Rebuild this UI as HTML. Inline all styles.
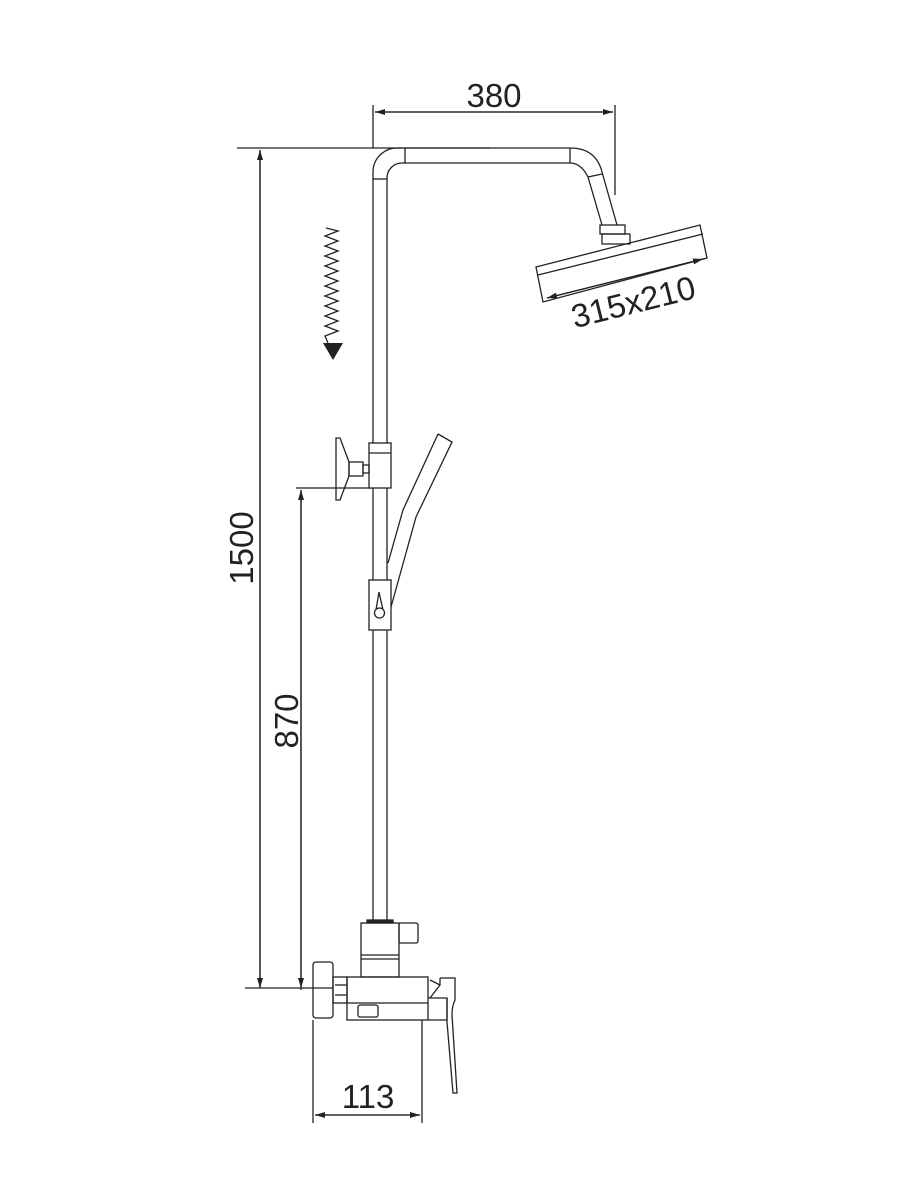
<!DOCTYPE html>
<html><head><meta charset="utf-8"><style>html,body{margin:0;padding:0;background:#fff}svg{display:block}</style></head>
<body>
<svg width="900" height="1200" viewBox="0 0 900 1200" xmlns="http://www.w3.org/2000/svg">
<defs>
<marker id="ar" markerWidth="10" markerHeight="6" refX="10" refY="3" orient="auto" markerUnits="userSpaceOnUse">
<path d="M0,0 L10,3 L0,6 Z" fill="#222"/></marker>
</defs>
<g fill="none" stroke="#222" stroke-width="1.3">
<line x1="237" y1="148" x2="490" y2="148"/>
<line x1="260" y1="988" x2="260" y2="150" marker-end="url(#ar)"/>
<line x1="260" y1="150" x2="260" y2="988" marker-end="url(#ar)"/>
<line x1="301" y1="990" x2="301" y2="490" marker-end="url(#ar)"/>
<line x1="301" y1="490" x2="301" y2="988" marker-end="url(#ar)"/>
<line x1="296" y1="488" x2="372" y2="488"/>
<line x1="245" y1="988" x2="333" y2="988"/>
<line x1="373" y1="105" x2="373" y2="148"/>
<line x1="615" y1="105" x2="615" y2="195"/>
<line x1="375" y1="112" x2="613" y2="112" marker-end="url(#ar)"/>
<line x1="613" y1="112" x2="375" y2="112" marker-end="url(#ar)"/>
<line x1="313" y1="1020" x2="313" y2="1123"/>
<line x1="422" y1="1020" x2="422" y2="1123"/>
<line x1="315" y1="1115" x2="420" y2="1115" marker-end="url(#ar)"/>
<line x1="420" y1="1115" x2="315" y2="1115" marker-end="url(#ar)"/>

<path d="M373,923 L373,172 A24,24 0 0 1 397,148 L570,148 Q596,148 602,172 L617,225"/>
<path d="M387,923 L387,178 A15,15 0 0 1 402,163 L570,163 Q581,163 588,177 L602,225"/>
<line x1="405" y1="148" x2="405" y2="163"/>
<line x1="373" y1="179" x2="387" y2="179"/>
<line x1="570" y1="148" x2="570" y2="163"/>
<line x1="588" y1="177" x2="602" y2="174"/>
<rect x="600" y="225" width="25" height="9"/>
<rect x="602" y="234" width="28" height="10"/>
<polygon points="536,267 700,225 707,258 543,302"/>
<line x1="538" y1="275" x2="703" y2="234"/>
<line x1="547" y1="298" x2="703" y2="259" marker-end="url(#ar)"/>
<line x1="703" y1="259" x2="547" y2="298" marker-end="url(#ar)"/>

<polyline points="326,228 338,231 325,236 338,241 325,246 338,251 325,256 338,261 325,266 338,271 325,276 338,281 325,286 338,291 325,296 338,301 325,306 338,311 325,316 338,321 325,326 338,331 325,336 328,343"/>

<rect x="369" y="443" width="22" height="45" fill="#fff"/>
<line x1="369" y1="453" x2="391" y2="453"/>
<rect x="363" y="465" width="6" height="8"/>
<rect x="349" y="462" width="14" height="14"/>
<polygon points="336,438 340,438 349,462 349,476 340,500 336,500"/>

<path d="M438,434 L452,442 L416,517 L391,607"/>
<path d="M438,434 L403,510 L388,563"/>
<rect x="369" y="580" width="22" height="50" fill="#fff"/>
<polygon points="379,592 376,610 383,610"/>
<circle cx="379.5" cy="613" r="5" fill="#fff"/>

<rect x="367" y="920" width="26" height="3" fill="#222"/>
<rect x="361" y="923" width="38" height="54"/>
<line x1="361" y1="955" x2="399" y2="955"/>
<line x1="361" y1="959" x2="399" y2="959"/>
<rect x="399" y="923" width="19" height="20" rx="2"/>
<rect x="347" y="977" width="81" height="43"/>
<line x1="347" y1="1003" x2="428" y2="1003"/>
<rect x="358" y="1005" width="20" height="12" rx="2"/>
<rect x="333" y="977" width="14" height="26"/>
<line x1="335" y1="985" x2="347" y2="985"/>
<line x1="335" y1="995" x2="347" y2="995"/>
<rect x="313" y="962" width="20" height="56" rx="3"/>
<path d="M428,998 L447,998 L447,1020 L428,1020"/>
<path d="M430,980 L440,985 L430,998"/>
<path d="M440,978 L455,978 L455,1000 Q452,1006 452,1015 L457,1093 L453,1093 L447,1022 L447,998"/>
<line x1="440" y1="978" x2="440" y2="985"/>
</g>
<polygon points="323,343 343,343 333,360" fill="#222"/>
<g font-family="'Liberation Sans', sans-serif" font-size="33" fill="#222" text-anchor="middle">
<text x="494" y="107">380</text>
<text x="368" y="1108">113</text>
<text transform="translate(253,548) rotate(-90)">1500</text>
<text transform="translate(298,721) rotate(-90)">870</text>
<text transform="translate(636,313) rotate(-14)">315x210</text>
</g>
</svg>
</body></html>
